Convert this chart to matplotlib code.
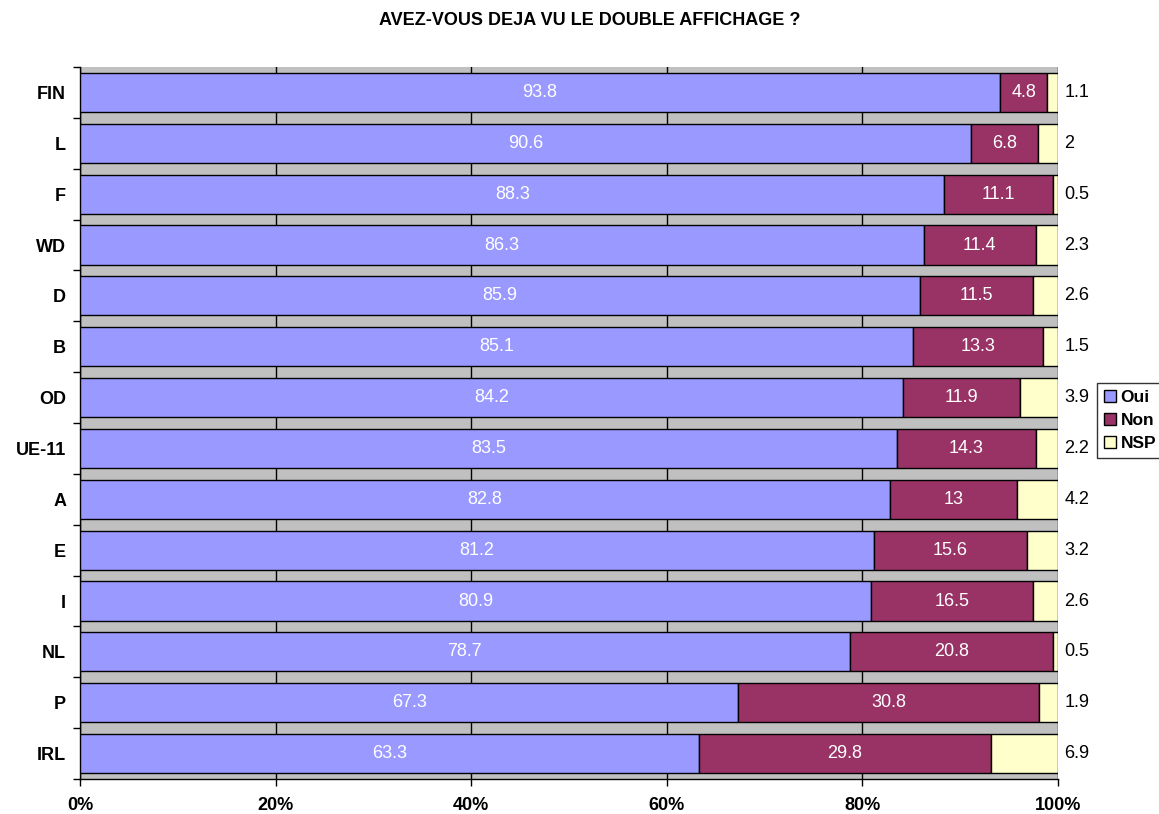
import matplotlib
matplotlib.use("Agg")
import matplotlib.pyplot as plt
import numpy as np

plt.rcParams['font.family'] = ['Liberation Sans', 'DejaVu Sans']

countries = ["FIN", "L", "F", "WD", "D", "B", "OD", "UE-11", "A", "E", "I", "NL", "P", "IRL"]
oui = [93.8, 90.6, 88.3, 86.3, 85.9, 85.1, 84.2, 83.5, 82.8, 81.2, 80.9, 78.7, 67.3, 63.3]
non = [4.8, 6.8, 11.1, 11.4, 11.5, 13.3, 11.9, 14.3, 13, 15.6, 16.5, 20.8, 30.8, 29.8]
nsp = [1.1, 2, 0.5, 2.3, 2.6, 1.5, 3.9, 2.2, 4.2, 3.2, 2.6, 0.5, 1.9, 6.9]
series_names = ["Oui", "Non", "NSP"]
colors = ["#9999FF", "#993366", "#FFFFCC"]

raw = np.array([oui, non, nsp], dtype=float)
shares = raw / raw.sum(axis=0)

fig = plt.figure(figsize=(11.59, 8.14), dpi=100)
ax = fig.add_axes([80 / 1159, 1 - 779 / 814, (1058 - 80) / 1159, (779 - 67) / 814])
ax.set_facecolor("#C0C0C0")

y = np.arange(len(countries))
left = np.zeros(len(countries))
bars = []
for i, name in enumerate(series_names):
    b = ax.barh(y, shares[i], left=left, height=0.77, color=colors[i],
                edgecolor="black", linewidth=1, label=name, zorder=3)
    bars.append(b)
    left += shares[i]

# labels inside for Oui / Non
for i in range(2):
    for j in range(len(countries)):
        xc = shares[:i, j].sum() + shares[i, j] / 2
        ax.text(xc, y[j], f"{raw[i, j]:g}", color="white", ha="center", va="center",
                fontsize=13, zorder=4)

# NSP labels outside on the right
for j in range(len(countries)):
    ax.annotate(f"{raw[2, j]:g}", xy=(1.0, y[j]), xytext=(4.5, 0),
                textcoords="offset points", ha="left", va="center",
                fontsize=13, annotation_clip=False)

ax.set_xlim(0, 1)
ax.set_ylim(len(countries) - 0.5, -0.5)
ax.set_xticks([0, 0.2, 0.4, 0.6, 0.8, 1.0])
ax.set_xticklabels(["0%", "20%", "40%", "60%", "80%", "100%"], fontweight="bold", fontsize=13)
ax.xaxis.grid(True, color="black", linewidth=1, zorder=0)
ax.set_axisbelow(True)
ax.tick_params(axis="x", direction="out", length=5, width=1, pad=8)

ax.set_yticks(y)
ax.set_yticklabels(countries, fontweight="bold", fontsize=13)
ax.set_yticks(np.arange(-0.5, len(countries), 1), minor=True)
ax.tick_params(axis="y", which="major", length=0, pad=10)
ax.tick_params(axis="y", which="minor", direction="out", length=5, width=1)

for s in ["top", "right"]:
    ax.spines[s].set_visible(False)
ax.spines["left"].set_linewidth(1)
ax.spines["bottom"].set_linewidth(1)

fig.text(0.509, 0.975, "AVEZ-VOUS DEJA VU LE DOUBLE AFFICHAGE ?", ha="center",
         va="center", fontweight="bold", fontsize=13)

leg = fig.legend(handles=bars, labels=series_names, loc="upper left",
                 bbox_to_anchor=(1097 / 1159, 1 - 383 / 814), frameon=True,
                 fancybox=False, edgecolor="black", handlelength=0.7,
                 handleheight=0.7, handletextpad=0.25, borderpad=0.4,
                 labelspacing=0.45, borderaxespad=0,
                 prop={"weight": "bold", "size": 12.5})
leg.get_frame().set_linewidth(1)

fig.savefig("out.png", dpi=100)
